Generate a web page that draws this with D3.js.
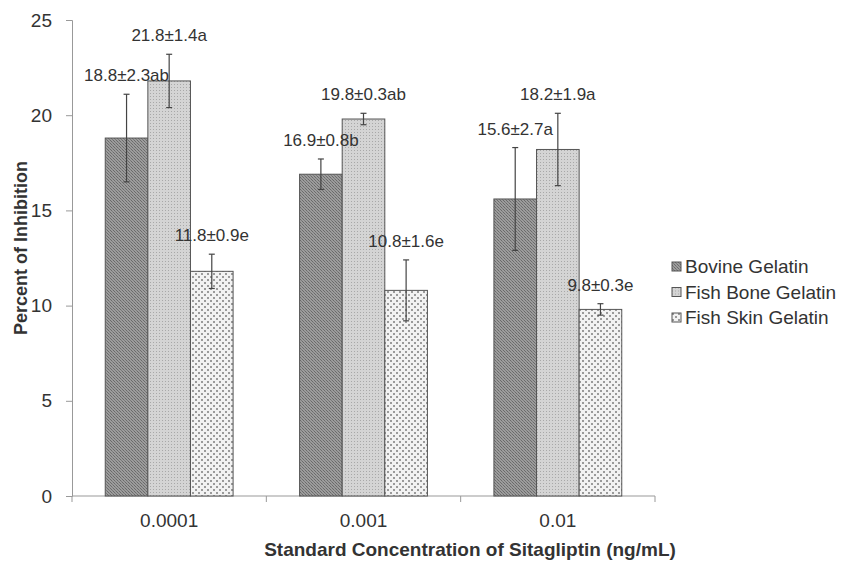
<!DOCTYPE html>
<html>
<head>
<meta charset="utf-8">
<script src="https://cdn.jsdelivr.net/npm/d3@7"></script>
<style>
  body { margin: 0; background: #fff; }
  text { font-family: "Liberation Sans", Arial, sans-serif; fill: #333; }
</style>
</head>
<body>
<svg id="chart" width="846" height="561"></svg>
<script>
// data
var concentrations = ['0.0001', '0.001', '0.01'];
var series = ['Bovine Gelatin', 'Fish Bone Gelatin', 'Fish Skin Gelatin'];
var bovine = [18.8, 16.9, 15.6];
var fishBone = [21.8, 19.8, 18.2];
var fishSkin = [11.8, 10.8, 9.8];
var bovineErr = [2.3, 0.8, 2.7];
var fishBoneErr = [1.4, 0.3, 1.9];
var fishSkinErr = [0.9, 1.6, 0.3];
var bovineLetters = ['ab', 'b', 'a'];
var fishBoneLetters = ['a', 'ab', 'a'];
var fishSkinLetters = ['e', 'e', 'e'];
var yTicks = [0, 5, 10, 15, 20, 25];

var values = [bovine, fishBone, fishSkin];
var errs = [bovineErr, fishBoneErr, fishSkinErr];
var letters = [bovineLetters, fishBoneLetters, fishSkinLetters];

var rows = [];
concentrations.forEach(function(c, i) {
    series.forEach(function(s, j) {
        rows.push({ conc: c, series: s, idx: j, v: values[j][i], e: errs[j][i], l: letters[j][i] });
    });
});

var svg = d3.select('#chart');
var defs = svg.append('defs');

// fills, approximating the hatched greys of the print
var p1 = defs.append('pattern').attr('id', 'pat0').attr('patternUnits', 'userSpaceOnUse')
    .attr('width', 3).attr('height', 3);
p1.append('rect').attr('width', 3).attr('height', 3).attr('fill', '#9c9c9c');
p1.append('rect').attr('x', 0).attr('y', 0).attr('width', 1).attr('height', 1).attr('fill', '#6a6a6a');
p1.append('rect').attr('x', 1).attr('y', 1).attr('width', 1).attr('height', 1).attr('fill', '#7a7a7a');
p1.append('rect').attr('x', 2).attr('y', 2).attr('width', 1).attr('height', 1).attr('fill', '#6a6a6a');

var p2 = defs.append('pattern').attr('id', 'pat1').attr('patternUnits', 'userSpaceOnUse')
    .attr('width', 3).attr('height', 3);
p2.append('rect').attr('width', 3).attr('height', 3).attr('fill', '#d4d4d4');
p2.append('rect').attr('width', 1).attr('height', 1).attr('fill', '#a8a8a8');

var p3 = defs.append('pattern').attr('id', 'pat2').attr('patternUnits', 'userSpaceOnUse')
    .attr('width', 6).attr('height', 6);
p3.append('rect').attr('width', 6).attr('height', 6).attr('fill', '#f2f2f2');
p3.append('rect').attr('x', 0).attr('y', 0).attr('width', 2).attr('height', 2).attr('fill', '#9a9a9a');
p3.append('rect').attr('x', 3).attr('y', 3).attr('width', 2).attr('height', 2).attr('fill', '#9a9a9a');

var x0 = d3.scaleBand().domain(concentrations).range([72, 655]).padding(0);
var x1 = d3.scaleBand().domain(series).range([0, x0.bandwidth()]).paddingInner(0).paddingOuter(0.78);
var y = d3.scaleLinear().domain([0, 25]).range([496, 20]);

// y axis
var yAxis = svg.append('g').attr('transform', 'translate(72,0)')
    .call(d3.axisLeft(y).tickValues(yTicks).tickSize(6).tickPadding(14));
yAxis.select('.domain').attr('stroke', '#999');
yAxis.selectAll('.tick line').attr('stroke', '#999');
yAxis.selectAll('.tick text').style('font-size', '19px').attr('fill', '#333');

// x axis, ticks between categories
var xAxis = svg.append('g').attr('transform', 'translate(0,496)');
xAxis.append('line').attr('x1', 72).attr('x2', 655).attr('stroke', '#999');
xAxis.selectAll('.xt').data(concentrations.concat(['end'])).enter().append('line')
    .attr('x1', function(d, i) { return i < concentrations.length ? x0(d) : x0.range()[1]; })
    .attr('x2', function(d, i) { return i < concentrations.length ? x0(d) : x0.range()[1]; })
    .attr('y1', 0).attr('y2', 6).attr('stroke', '#999');
xAxis.selectAll('.xl').data(concentrations).enter().append('text')
    .attr('x', function(d) { return x0(d) + x0.bandwidth() / 2; })
    .attr('y', 31).attr('text-anchor', 'middle').style('font-size', '19px')
    .text(function(d) { return d; });

// bars
svg.selectAll('.bar').data(rows).enter().append('rect')
    .attr('class', 'bar')
    .attr('x', function(d) { return x0(d.conc) + x1(d.series); })
    .attr('y', function(d) { return y(d.v); })
    .attr('width', x1.bandwidth())
    .attr('height', function(d) { return y(0) - y(d.v); })
    .attr('fill', function(d) { return 'url(#pat' + d.idx + ')'; })
    .attr('stroke', '#555').attr('stroke-width', 1);

// error bars
var eb = svg.selectAll('.err').data(rows).enter().append('g').attr('class', 'err')
    .attr('transform', function(d) { return 'translate(' + (x0(d.conc) + x1(d.series) + x1.bandwidth() / 2) + ',0)'; });
eb.append('line').attr('y1', function(d) { return y(d.v - d.e); }).attr('y2', function(d) { return y(d.v + d.e); })
    .attr('stroke', '#444').attr('stroke-width', 1.2);
eb.append('line').attr('x1', -3).attr('x2', 3).attr('y1', function(d) { return y(d.v + d.e); })
    .attr('y2', function(d) { return y(d.v + d.e); }).attr('stroke', '#444').attr('stroke-width', 1.2);
eb.append('line').attr('x1', -3).attr('x2', 3).attr('y1', function(d) { return y(d.v - d.e); })
    .attr('y2', function(d) { return y(d.v - d.e); }).attr('stroke', '#444').attr('stroke-width', 1.2);

// labels
svg.selectAll('.lab').data(rows).enter().append('text')
    .attr('class', 'lab')
    .attr('x', function(d) { return x0(d.conc) + x1(d.series) + x1.bandwidth() / 2; })
    .attr('y', function(d) { return y(d.v + d.e) - 13; })
    .attr('text-anchor', 'middle').style('font-size', '17px')
    .text(function(d) { return d.v.toFixed(1) + '\u00b1' + d.e.toFixed(1) + d.l; });

// axis titles
svg.append('text').attr('transform', 'translate(27,248) rotate(-90)')
    .attr('text-anchor', 'middle').style('font-size', '18px').style('font-weight', 'bold')
    .text('Percent of Inhibition');
svg.append('text').attr('x', 470).attr('y', 556)
    .attr('text-anchor', 'middle').style('font-size', '19px').style('font-weight', 'bold')
    .text('Standard Concentration of Sitagliptin (ng/mL)');

// legend
var leg = svg.selectAll('.leg').data(series).enter().append('g').attr('class', 'leg')
    .attr('transform', function(d, i) { return 'translate(672,' + (262 + i * 25.5) + ')'; });
leg.append('rect').attr('width', 9).attr('height', 9)
    .attr('fill', function(d, i) { return 'url(#pat' + i + ')'; }).attr('stroke', '#555');
leg.append('text').attr('x', 13).attr('y', 11).style('font-size', '19px')
    .text(function(d) { return d; });
</script>
</body>
</html>
